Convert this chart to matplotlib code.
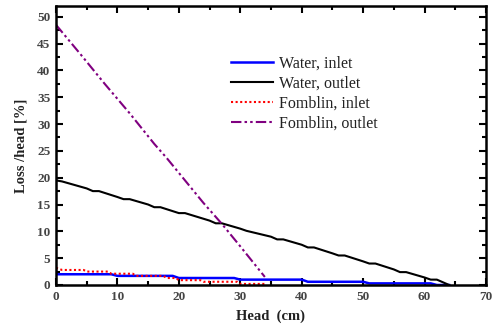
import matplotlib
matplotlib.use("Agg")
import matplotlib.pyplot as plt
from matplotlib.ticker import MultipleLocator

water_in_x = [0, 9, 10, 19, 20, 29, 30, 40, 41, 50, 51, 61, 62, 64]
water_in_y = [2.0, 2.0, 1.7, 1.7, 1.3, 1.3, 1.0, 1.0, 0.6, 0.6, 0.3, 0.3, 0.0, 0.0]

water_out_x = [0, 1, 5, 6, 7, 10, 11, 12, 15, 16, 17, 20, 21, 25, 26, 27, 30, 31, 35, 36, 37,
               40, 41, 42, 45, 46, 47, 50, 51, 52, 55, 56, 57, 60, 61, 62, 64]
water_out_y = [19.5, 19.3, 18.0, 17.5, 17.5, 16.4, 16.0, 16.0, 15.0, 14.5, 14.5, 13.4, 13.4,
               12.0, 11.5, 11.5, 10.5, 10.1, 9.0, 8.5, 8.5, 7.5, 7.0, 7.0, 5.9, 5.5, 5.5,
               4.4, 4.0, 4.0, 2.9, 2.4, 2.4, 1.4, 1.0, 1.0, 0.0]

fomb_in_x = [0, 1, 4.5, 5, 8.5, 9, 12.5, 13, 17.5, 18, 19.5, 20, 23.5, 24, 29.5, 30, 34]
fomb_in_y = [3.2, 2.8, 2.8, 2.5, 2.5, 2.1, 2.1, 1.7, 1.7, 1.3, 1.3, 0.9, 0.9, 0.6, 0.6, 0.2, 0.2]

fomb_out_x = [0, 4, 8, 12, 16, 18, 20, 24, 27, 30, 34]
fomb_out_y = [48.5, 43.0, 37.4, 32.0, 26.3, 23.7, 20.9, 15.3, 11.4, 7.2, 1.5]

labels = ["Water, inlet", "Water, outlet", "Fomblin, inlet", "Fomblin, outlet"]

plt.rcParams['font.family'] = ['Liberation Serif', 'DejaVu Serif']
fig = plt.figure(figsize=(4.92, 3.24), dpi=100)
ax = fig.add_axes([0.1138, 0.1204, 0.874, 0.861])

ax.plot(water_in_x, water_in_y, color='#0000ff', lw=1.8, label=labels[0])
ax.plot(water_out_x, water_out_y, color='black', lw=1.5, label=labels[1])
ax.plot(fomb_in_x, fomb_in_y, color='#ff0000', lw=1.5, ls=(0, (1, 1.2)), label=labels[2])
ax.plot(fomb_out_x, fomb_out_y, color='#800080', lw=1.5, ls=(0, (5, 1.5, 1.2, 1.5, 1.2, 1.5)), label=labels[3])

ax.set_xlim(0, 70)
ax.set_ylim(0, 52)
ax.xaxis.set_major_locator(MultipleLocator(10))
ax.xaxis.set_minor_locator(MultipleLocator(5))
ax.yaxis.set_major_locator(MultipleLocator(5))
ax.yaxis.set_minor_locator(MultipleLocator(2.5))
ax.tick_params(which='both', direction='in', top=True, right=True, width=1.5,
               labelsize=9.5, labelcolor='#444444', pad=4)
ax.tick_params(which='major', length=5)
ax.tick_params(which='minor', length=3)
for lab in ax.get_xticklabels() + ax.get_yticklabels():
    lab.set_fontweight('bold')
for s in ax.spines.values():
    s.set_linewidth(1.8)

ax.set_xlabel("Head  (cm)", fontsize=10.5, fontweight='bold', color='#222222', labelpad=5)
ax.set_ylabel("Loss /head [%]", fontsize=10.5, fontweight='bold', color='#222222', labelpad=7)

leg = ax.legend(loc='upper left', bbox_to_anchor=(0.393, 0.845), frameon=False, fontsize=11.5,
                handlelength=2.6, handletextpad=0.4, labelspacing=0.25, borderaxespad=0)
for t in leg.get_texts():
    t.set_color('#222222')

fig.savefig("out.png", dpi=100)
